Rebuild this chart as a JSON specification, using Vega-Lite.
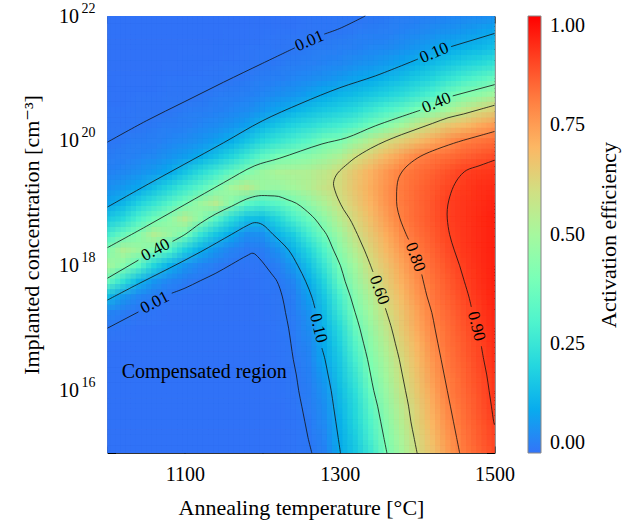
{
"$schema":"https://vega.github.io/schema/vega-lite/v6.json",
"width":387,"height":437,
"autosize":{"type":"none"},
"padding":{"left":107.5,"top":16,"right":146.5,"bottom":76},
"config":{"view":{"stroke":null},"font":"Liberation Serif, Times New Roman, DejaVu Serif, serif","axis":{"grid":false,"zindex":1,"labelFont":"Liberation Serif, Times New Roman, DejaVu Serif, serif","titleFont":"Liberation Serif, Times New Roman, DejaVu Serif, serif","labelColor":"#000","titleColor":"#000","titleFontWeight":"normal","labelFlush":false,"labelOverlap":false,"tickColor":"#000","domainColor":"#333","domainWidth":1}},
"datasets":{
"grid":[
{"t":1000,"u":15,"e":0},{"t":1020,"u":15,"e":0},{"t":1040,"u":15,"e":0},{"t":1060,"u":15,"e":0},{"t":1080,"u":15,"e":0},{"t":1100,"u":15,"e":0},{"t":1120,"u":15,"e":0},{"t":1140,"u":15,"e":0},{"t":1160,"u":15,"e":0},{"t":1180,"u":15,"e":0},{"t":1200,"u":15,"e":0},{"t":1220,"u":15,"e":0},{"t":1240,"u":15,"e":0.004},{"t":1260,"u":15,"e":0.009},{"t":1280,"u":15,"e":0.027},{"t":1300,"u":15,"e":0.097},{"t":1320,"u":15,"e":0.165},{"t":1340,"u":15,"e":0.26},{"t":1360,"u":15,"e":0.395},{"t":1380,"u":15,"e":0.5},{"t":1400,"u":15,"e":0.6},{"t":1420,"u":15,"e":0.67},{"t":1440,"u":15,"e":0.745},{"t":1460,"u":15,"e":0.81},{"t":1480,"u":15,"e":0.847},{"t":1500,"u":15,"e":0.885},
{"t":1000,"u":15.25,"e":0},{"t":1020,"u":15.25,"e":0},{"t":1040,"u":15.25,"e":0},{"t":1060,"u":15.25,"e":0},{"t":1080,"u":15.25,"e":0},{"t":1100,"u":15.25,"e":0},{"t":1120,"u":15.25,"e":0},{"t":1140,"u":15.25,"e":0},{"t":1160,"u":15.25,"e":0},{"t":1180,"u":15.25,"e":0},{"t":1200,"u":15.25,"e":0},{"t":1220,"u":15.25,"e":0},{"t":1240,"u":15.25,"e":0.003},{"t":1260,"u":15.25,"e":0.011},{"t":1280,"u":15.25,"e":0.035},{"t":1300,"u":15.25,"e":0.105},{"t":1320,"u":15.25,"e":0.18},{"t":1340,"u":15.25,"e":0.29},{"t":1360,"u":15.25,"e":0.415},{"t":1380,"u":15.25,"e":0.518},{"t":1400,"u":15.25,"e":0.615},{"t":1420,"u":15.25,"e":0.687},{"t":1440,"u":15.25,"e":0.76},{"t":1460,"u":15.25,"e":0.817},{"t":1480,"u":15.25,"e":0.856},{"t":1500,"u":15.25,"e":0.895},
{"t":1000,"u":15.5,"e":0},{"t":1020,"u":15.5,"e":0},{"t":1040,"u":15.5,"e":0},{"t":1060,"u":15.5,"e":0},{"t":1080,"u":15.5,"e":0},{"t":1100,"u":15.5,"e":0},{"t":1120,"u":15.5,"e":0},{"t":1140,"u":15.5,"e":0},{"t":1160,"u":15.5,"e":0},{"t":1180,"u":15.5,"e":0},{"t":1200,"u":15.5,"e":0},{"t":1220,"u":15.5,"e":0},{"t":1240,"u":15.5,"e":0.004},{"t":1260,"u":15.5,"e":0.013},{"t":1280,"u":15.5,"e":0.042},{"t":1300,"u":15.5,"e":0.115},{"t":1320,"u":15.5,"e":0.2},{"t":1340,"u":15.5,"e":0.31},{"t":1360,"u":15.5,"e":0.436},{"t":1380,"u":15.5,"e":0.538},{"t":1400,"u":15.5,"e":0.629},{"t":1420,"u":15.5,"e":0.702},{"t":1440,"u":15.5,"e":0.775},{"t":1460,"u":15.5,"e":0.825},{"t":1480,"u":15.5,"e":0.863},{"t":1500,"u":15.5,"e":0.9},
{"t":1000,"u":15.75,"e":0},{"t":1020,"u":15.75,"e":0},{"t":1040,"u":15.75,"e":0},{"t":1060,"u":15.75,"e":0},{"t":1080,"u":15.75,"e":0},{"t":1100,"u":15.75,"e":0},{"t":1120,"u":15.75,"e":0},{"t":1140,"u":15.75,"e":0},{"t":1160,"u":15.75,"e":0},{"t":1180,"u":15.75,"e":0},{"t":1200,"u":15.75,"e":0},{"t":1220,"u":15.75,"e":0},{"t":1240,"u":15.75,"e":0.005},{"t":1260,"u":15.75,"e":0.017},{"t":1280,"u":15.75,"e":0.051},{"t":1300,"u":15.75,"e":0.125},{"t":1320,"u":15.75,"e":0.21},{"t":1340,"u":15.75,"e":0.34},{"t":1360,"u":15.75,"e":0.455},{"t":1380,"u":15.75,"e":0.555},{"t":1400,"u":15.75,"e":0.64},{"t":1420,"u":15.75,"e":0.715},{"t":1440,"u":15.75,"e":0.79},{"t":1460,"u":15.75,"e":0.832},{"t":1480,"u":15.75,"e":0.87},{"t":1500,"u":15.75,"e":0.91},
{"t":1000,"u":16,"e":0},{"t":1020,"u":16,"e":0},{"t":1040,"u":16,"e":0},{"t":1060,"u":16,"e":0},{"t":1080,"u":16,"e":0},{"t":1100,"u":16,"e":0},{"t":1120,"u":16,"e":0},{"t":1140,"u":16,"e":0},{"t":1160,"u":16,"e":0},{"t":1180,"u":16,"e":0},{"t":1200,"u":16,"e":0},{"t":1220,"u":16,"e":0.002},{"t":1240,"u":16,"e":0.007},{"t":1260,"u":16,"e":0.02},{"t":1280,"u":16,"e":0.061},{"t":1300,"u":16,"e":0.14},{"t":1320,"u":16,"e":0.23},{"t":1340,"u":16,"e":0.37},{"t":1360,"u":16,"e":0.478},{"t":1380,"u":16,"e":0.576},{"t":1400,"u":16,"e":0.656},{"t":1420,"u":16,"e":0.73},{"t":1440,"u":16,"e":0.802},{"t":1460,"u":16,"e":0.839},{"t":1480,"u":16,"e":0.876},{"t":1500,"u":16,"e":0.915},
{"t":1000,"u":16.25,"e":0},{"t":1020,"u":16.25,"e":0},{"t":1040,"u":16.25,"e":0},{"t":1060,"u":16.25,"e":0},{"t":1080,"u":16.25,"e":0},{"t":1100,"u":16.25,"e":0},{"t":1120,"u":16.25,"e":0},{"t":1140,"u":16.25,"e":0},{"t":1160,"u":16.25,"e":0},{"t":1180,"u":16.25,"e":0},{"t":1200,"u":16.25,"e":0},{"t":1220,"u":16.25,"e":0.002},{"t":1240,"u":16.25,"e":0.008},{"t":1260,"u":16.25,"e":0.025},{"t":1280,"u":16.25,"e":0.075},{"t":1300,"u":16.25,"e":0.155},{"t":1320,"u":16.25,"e":0.26},{"t":1340,"u":16.25,"e":0.4},{"t":1360,"u":16.25,"e":0.498},{"t":1380,"u":16.25,"e":0.595},{"t":1400,"u":16.25,"e":0.67},{"t":1420,"u":16.25,"e":0.745},{"t":1440,"u":16.25,"e":0.81},{"t":1460,"u":16.25,"e":0.845},{"t":1480,"u":16.25,"e":0.882},{"t":1500,"u":16.25,"e":0.92},
{"t":1000,"u":16.5,"e":0},{"t":1020,"u":16.5,"e":0},{"t":1040,"u":16.5,"e":0},{"t":1060,"u":16.5,"e":0},{"t":1080,"u":16.5,"e":0},{"t":1100,"u":16.5,"e":0},{"t":1120,"u":16.5,"e":0},{"t":1140,"u":16.5,"e":0},{"t":1160,"u":16.5,"e":0},{"t":1180,"u":16.5,"e":0},{"t":1200,"u":16.5,"e":0},{"t":1220,"u":16.5,"e":0.003},{"t":1240,"u":16.5,"e":0.01},{"t":1260,"u":16.5,"e":0.031},{"t":1280,"u":16.5,"e":0.095},{"t":1300,"u":16.5,"e":0.17},{"t":1320,"u":16.5,"e":0.29},{"t":1340,"u":16.5,"e":0.42},{"t":1360,"u":16.5,"e":0.517},{"t":1380,"u":16.5,"e":0.61},{"t":1400,"u":16.5,"e":0.685},{"t":1420,"u":16.5,"e":0.76},{"t":1440,"u":16.5,"e":0.816},{"t":1460,"u":16.5,"e":0.853},{"t":1480,"u":16.5,"e":0.889},{"t":1500,"u":16.5,"e":0.925},
{"t":1000,"u":16.75,"e":0},{"t":1020,"u":16.75,"e":0},{"t":1040,"u":16.75,"e":0},{"t":1060,"u":16.75,"e":0},{"t":1080,"u":16.75,"e":0},{"t":1100,"u":16.75,"e":0},{"t":1120,"u":16.75,"e":0},{"t":1140,"u":16.75,"e":0},{"t":1160,"u":16.75,"e":0},{"t":1180,"u":16.75,"e":0},{"t":1200,"u":16.75,"e":0},{"t":1220,"u":16.75,"e":0.004},{"t":1240,"u":16.75,"e":0.012},{"t":1260,"u":16.75,"e":0.038},{"t":1280,"u":16.75,"e":0.105},{"t":1300,"u":16.75,"e":0.19},{"t":1320,"u":16.75,"e":0.32},{"t":1340,"u":16.75,"e":0.444},{"t":1360,"u":16.75,"e":0.541},{"t":1380,"u":16.75,"e":0.63},{"t":1400,"u":16.75,"e":0.7},{"t":1420,"u":16.75,"e":0.775},{"t":1440,"u":16.75,"e":0.824},{"t":1460,"u":16.75,"e":0.86},{"t":1480,"u":16.75,"e":0.896},{"t":1500,"u":16.75,"e":0.93},
{"t":1000,"u":17,"e":0.01},{"t":1020,"u":17,"e":0.005},{"t":1040,"u":17,"e":0},{"t":1060,"u":17,"e":0},{"t":1080,"u":17,"e":0},{"t":1100,"u":17,"e":0},{"t":1120,"u":17,"e":0},{"t":1140,"u":17,"e":0},{"t":1160,"u":17,"e":0},{"t":1180,"u":17,"e":0},{"t":1200,"u":17,"e":0},{"t":1220,"u":17,"e":0.005},{"t":1240,"u":17,"e":0.014},{"t":1260,"u":17,"e":0.047},{"t":1280,"u":17,"e":0.12},{"t":1300,"u":17,"e":0.215},{"t":1320,"u":17,"e":0.36},{"t":1340,"u":17,"e":0.468},{"t":1360,"u":17,"e":0.566},{"t":1380,"u":17,"e":0.65},{"t":1400,"u":17,"e":0.72},{"t":1420,"u":17,"e":0.79},{"t":1440,"u":17,"e":0.83},{"t":1460,"u":17,"e":0.869},{"t":1480,"u":17,"e":0.905},{"t":1500,"u":17,"e":0.935},
{"t":1000,"u":17.25,"e":0.036},{"t":1020,"u":17.25,"e":0.019},{"t":1040,"u":17.25,"e":0.009},{"t":1060,"u":17.25,"e":0.004},{"t":1080,"u":17.25,"e":0},{"t":1100,"u":17.25,"e":0},{"t":1120,"u":17.25,"e":0},{"t":1140,"u":17.25,"e":0},{"t":1160,"u":17.25,"e":0},{"t":1180,"u":17.25,"e":0},{"t":1200,"u":17.25,"e":0.002},{"t":1220,"u":17.25,"e":0.006},{"t":1240,"u":17.25,"e":0.018},{"t":1260,"u":17.25,"e":0.059},{"t":1280,"u":17.25,"e":0.14},{"t":1300,"u":17.25,"e":0.255},{"t":1320,"u":17.25,"e":0.4},{"t":1340,"u":17.25,"e":0.498},{"t":1360,"u":17.25,"e":0.595},{"t":1380,"u":17.25,"e":0.665},{"t":1400,"u":17.25,"e":0.735},{"t":1420,"u":17.25,"e":0.802},{"t":1440,"u":17.25,"e":0.84},{"t":1460,"u":17.25,"e":0.877},{"t":1480,"u":17.25,"e":0.911},{"t":1500,"u":17.25,"e":0.94},
{"t":1000,"u":17.5,"e":0.14},{"t":1020,"u":17.5,"e":0.066},{"t":1040,"u":17.5,"e":0.033},{"t":1060,"u":17.5,"e":0.016},{"t":1080,"u":17.5,"e":0.008},{"t":1100,"u":17.5,"e":0.004},{"t":1120,"u":17.5,"e":0.002},{"t":1140,"u":17.5,"e":0.001},{"t":1160,"u":17.5,"e":0},{"t":1180,"u":17.5,"e":0},{"t":1200,"u":17.5,"e":0.002},{"t":1220,"u":17.5,"e":0.007},{"t":1240,"u":17.5,"e":0.023},{"t":1260,"u":17.5,"e":0.079},{"t":1280,"u":17.5,"e":0.165},{"t":1300,"u":17.5,"e":0.29},{"t":1320,"u":17.5,"e":0.43},{"t":1340,"u":17.5,"e":0.53},{"t":1360,"u":17.5,"e":0.62},{"t":1380,"u":17.5,"e":0.688},{"t":1400,"u":17.5,"e":0.756},{"t":1420,"u":17.5,"e":0.813},{"t":1440,"u":17.5,"e":0.85},{"t":1460,"u":17.5,"e":0.887},{"t":1480,"u":17.5,"e":0.918},{"t":1500,"u":17.5,"e":0.945},
{"t":1000,"u":17.75,"e":0.36},{"t":1020,"u":17.75,"e":0.24},{"t":1040,"u":17.75,"e":0.125},{"t":1060,"u":17.75,"e":0.064},{"t":1080,"u":17.75,"e":0.034},{"t":1100,"u":17.75,"e":0.018},{"t":1120,"u":17.75,"e":0.01},{"t":1140,"u":17.75,"e":0.005},{"t":1160,"u":17.75,"e":0.002},{"t":1180,"u":17.75,"e":0},{"t":1200,"u":17.75,"e":0.004},{"t":1220,"u":17.75,"e":0.011},{"t":1240,"u":17.75,"e":0.037},{"t":1260,"u":17.75,"e":0.11},{"t":1280,"u":17.75,"e":0.205},{"t":1300,"u":17.75,"e":0.35},{"t":1320,"u":17.75,"e":0.465},{"t":1340,"u":17.75,"e":0.565},{"t":1360,"u":17.75,"e":0.643},{"t":1380,"u":17.75,"e":0.708},{"t":1400,"u":17.75,"e":0.774},{"t":1420,"u":17.75,"e":0.823},{"t":1440,"u":17.75,"e":0.86},{"t":1460,"u":17.75,"e":0.898},{"t":1480,"u":17.75,"e":0.924},{"t":1500,"u":17.75,"e":0.95},
{"t":1000,"u":18,"e":0.5},{"t":1020,"u":18,"e":0.43},{"t":1040,"u":18,"e":0.335},{"t":1060,"u":18,"e":0.2},{"t":1080,"u":18,"e":0.115},{"t":1100,"u":18,"e":0.063},{"t":1120,"u":18,"e":0.033},{"t":1140,"u":18,"e":0.017},{"t":1160,"u":18,"e":0.009},{"t":1180,"u":18,"e":0.005},{"t":1200,"u":18,"e":0.008},{"t":1220,"u":18,"e":0.024},{"t":1240,"u":18,"e":0.072},{"t":1260,"u":18,"e":0.15},{"t":1280,"u":18,"e":0.255},{"t":1300,"u":18,"e":0.395},{"t":1320,"u":18,"e":0.497},{"t":1340,"u":18,"e":0.6},{"t":1360,"u":18,"e":0.665},{"t":1380,"u":18,"e":0.73},{"t":1400,"u":18,"e":0.794},{"t":1420,"u":18,"e":0.834},{"t":1440,"u":18,"e":0.872},{"t":1460,"u":18,"e":0.906},{"t":1480,"u":18,"e":0.928},{"t":1500,"u":18,"e":0.95},
{"t":1000,"u":18.25,"e":0.42},{"t":1020,"u":18.25,"e":0.52},{"t":1040,"u":18.25,"e":0.48},{"t":1060,"u":18.25,"e":0.41},{"t":1080,"u":18.25,"e":0.31},{"t":1100,"u":18.25,"e":0.185},{"t":1120,"u":18.25,"e":0.11},{"t":1140,"u":18.25,"e":0.062},{"t":1160,"u":18.25,"e":0.03},{"t":1180,"u":18.25,"e":0.015},{"t":1200,"u":18.25,"e":0.02},{"t":1220,"u":18.25,"e":0.055},{"t":1240,"u":18.25,"e":0.12},{"t":1260,"u":18.25,"e":0.2},{"t":1280,"u":18.25,"e":0.31},{"t":1300,"u":18.25,"e":0.44},{"t":1320,"u":18.25,"e":0.54},{"t":1340,"u":18.25,"e":0.626},{"t":1360,"u":18.25,"e":0.69},{"t":1380,"u":18.25,"e":0.755},{"t":1400,"u":18.25,"e":0.811},{"t":1420,"u":18.25,"e":0.848},{"t":1440,"u":18.25,"e":0.885},{"t":1460,"u":18.25,"e":0.912},{"t":1480,"u":18.25,"e":0.931},{"t":1500,"u":18.25,"e":0.95},
{"t":1000,"u":18.5,"e":0.28},{"t":1020,"u":18.5,"e":0.36},{"t":1040,"u":18.5,"e":0.43},{"t":1060,"u":18.5,"e":0.53},{"t":1080,"u":18.5,"e":0.475},{"t":1100,"u":18.5,"e":0.4},{"t":1120,"u":18.5,"e":0.25},{"t":1140,"u":18.5,"e":0.16},{"t":1160,"u":18.5,"e":0.1},{"t":1180,"u":18.5,"e":0.051},{"t":1200,"u":18.5,"e":0.054},{"t":1220,"u":18.5,"e":0.12},{"t":1240,"u":18.5,"e":0.18},{"t":1260,"u":18.5,"e":0.28},{"t":1280,"u":18.5,"e":0.385},{"t":1300,"u":18.5,"e":0.485},{"t":1320,"u":18.5,"e":0.585},{"t":1340,"u":18.5,"e":0.654},{"t":1360,"u":18.5,"e":0.717},{"t":1380,"u":18.5,"e":0.78},{"t":1400,"u":18.5,"e":0.825},{"t":1420,"u":18.5,"e":0.86},{"t":1440,"u":18.5,"e":0.896},{"t":1460,"u":18.5,"e":0.915},{"t":1480,"u":18.5,"e":0.933},{"t":1500,"u":18.5,"e":0.95},
{"t":1000,"u":18.75,"e":0.17},{"t":1020,"u":18.75,"e":0.215},{"t":1040,"u":18.75,"e":0.3},{"t":1060,"u":18.75,"e":0.38},{"t":1080,"u":18.75,"e":0.45},{"t":1100,"u":18.75,"e":0.54},{"t":1120,"u":18.75,"e":0.445},{"t":1140,"u":18.75,"e":0.33},{"t":1160,"u":18.75,"e":0.22},{"t":1180,"u":18.75,"e":0.15},{"t":1200,"u":18.75,"e":0.14},{"t":1220,"u":18.75,"e":0.205},{"t":1240,"u":18.75,"e":0.29},{"t":1260,"u":18.75,"e":0.37},{"t":1280,"u":18.75,"e":0.453},{"t":1300,"u":18.75,"e":0.542},{"t":1320,"u":18.75,"e":0.62},{"t":1340,"u":18.75,"e":0.68},{"t":1360,"u":18.75,"e":0.743},{"t":1380,"u":18.75,"e":0.803},{"t":1400,"u":18.75,"e":0.836},{"t":1420,"u":18.75,"e":0.869},{"t":1440,"u":18.75,"e":0.9},{"t":1460,"u":18.75,"e":0.917},{"t":1480,"u":18.75,"e":0.934},{"t":1500,"u":18.75,"e":0.95},
{"t":1000,"u":19,"e":0.088},{"t":1020,"u":19,"e":0.125},{"t":1040,"u":19,"e":0.19},{"t":1060,"u":19,"e":0.25},{"t":1080,"u":19,"e":0.32},{"t":1100,"u":19,"e":0.39},{"t":1120,"u":19,"e":0.48},{"t":1140,"u":19,"e":0.54},{"t":1160,"u":19,"e":0.43},{"t":1180,"u":19,"e":0.335},{"t":1200,"u":19,"e":0.3},{"t":1220,"u":19,"e":0.335},{"t":1240,"u":19,"e":0.39},{"t":1260,"u":19,"e":0.454},{"t":1280,"u":19,"e":0.522},{"t":1300,"u":19,"e":0.59},{"t":1320,"u":19,"e":0.648},{"t":1340,"u":19,"e":0.704},{"t":1360,"u":19,"e":0.76},{"t":1380,"u":19,"e":0.81},{"t":1400,"u":19,"e":0.84},{"t":1420,"u":19,"e":0.87},{"t":1440,"u":19,"e":0.9},{"t":1460,"u":19,"e":0.915},{"t":1480,"u":19,"e":0.93},{"t":1500,"u":19,"e":0.945},
{"t":1000,"u":19.25,"e":0.05},{"t":1020,"u":19.25,"e":0.069},{"t":1040,"u":19.25,"e":0.093},{"t":1060,"u":19.25,"e":0.145},{"t":1080,"u":19.25,"e":0.205},{"t":1100,"u":19.25,"e":0.265},{"t":1120,"u":19.25,"e":0.33},{"t":1140,"u":19.25,"e":0.41},{"t":1160,"u":19.25,"e":0.5},{"t":1180,"u":19.25,"e":0.545},{"t":1200,"u":19.25,"e":0.48},{"t":1220,"u":19.25,"e":0.47},{"t":1240,"u":19.25,"e":0.495},{"t":1260,"u":19.25,"e":0.53},{"t":1280,"u":19.25,"e":0.575},{"t":1300,"u":19.25,"e":0.61},{"t":1320,"u":19.25,"e":0.665},{"t":1340,"u":19.25,"e":0.715},{"t":1360,"u":19.25,"e":0.765},{"t":1380,"u":19.25,"e":0.81},{"t":1400,"u":19.25,"e":0.836},{"t":1420,"u":19.25,"e":0.864},{"t":1440,"u":19.25,"e":0.892},{"t":1460,"u":19.25,"e":0.91},{"t":1480,"u":19.25,"e":0.925},{"t":1500,"u":19.25,"e":0.935},
{"t":1000,"u":19.5,"e":0.029},{"t":1020,"u":19.5,"e":0.039},{"t":1040,"u":19.5,"e":0.053},{"t":1060,"u":19.5,"e":0.073},{"t":1080,"u":19.5,"e":0.1},{"t":1100,"u":19.5,"e":0.155},{"t":1120,"u":19.5,"e":0.22},{"t":1140,"u":19.5,"e":0.28},{"t":1160,"u":19.5,"e":0.355},{"t":1180,"u":19.5,"e":0.42},{"t":1200,"u":19.5,"e":0.48},{"t":1220,"u":19.5,"e":0.513},{"t":1240,"u":19.5,"e":0.523},{"t":1260,"u":19.5,"e":0.53},{"t":1280,"u":19.5,"e":0.56},{"t":1300,"u":19.5,"e":0.605},{"t":1320,"u":19.5,"e":0.655},{"t":1340,"u":19.5,"e":0.705},{"t":1360,"u":19.5,"e":0.755},{"t":1380,"u":19.5,"e":0.8},{"t":1400,"u":19.5,"e":0.825},{"t":1420,"u":19.5,"e":0.85},{"t":1440,"u":19.5,"e":0.874},{"t":1460,"u":19.5,"e":0.9},{"t":1480,"u":19.5,"e":0.91},{"t":1500,"u":19.5,"e":0.92},
{"t":1000,"u":19.75,"e":0.017},{"t":1020,"u":19.75,"e":0.023},{"t":1040,"u":19.75,"e":0.031},{"t":1060,"u":19.75,"e":0.041},{"t":1080,"u":19.75,"e":0.057},{"t":1100,"u":19.75,"e":0.076},{"t":1120,"u":19.75,"e":0.105},{"t":1140,"u":19.75,"e":0.15},{"t":1160,"u":19.75,"e":0.2},{"t":1180,"u":19.75,"e":0.265},{"t":1200,"u":19.75,"e":0.34},{"t":1220,"u":19.75,"e":0.39},{"t":1240,"u":19.75,"e":0.42},{"t":1260,"u":19.75,"e":0.44},{"t":1280,"u":19.75,"e":0.48},{"t":1300,"u":19.75,"e":0.52},{"t":1320,"u":19.75,"e":0.595},{"t":1340,"u":19.75,"e":0.64},{"t":1360,"u":19.75,"e":0.69},{"t":1380,"u":19.75,"e":0.74},{"t":1400,"u":19.75,"e":0.79},{"t":1420,"u":19.75,"e":0.815},{"t":1440,"u":19.75,"e":0.83},{"t":1460,"u":19.75,"e":0.85},{"t":1480,"u":19.75,"e":0.867},{"t":1500,"u":19.75,"e":0.885},
{"t":1000,"u":20,"e":0.01},{"t":1020,"u":20,"e":0.013},{"t":1040,"u":20,"e":0.018},{"t":1060,"u":20,"e":0.024},{"t":1080,"u":20,"e":0.032},{"t":1100,"u":20,"e":0.043},{"t":1120,"u":20,"e":0.059},{"t":1140,"u":20,"e":0.079},{"t":1160,"u":20,"e":0.11},{"t":1180,"u":20,"e":0.155},{"t":1200,"u":20,"e":0.21},{"t":1220,"u":20,"e":0.25},{"t":1240,"u":20,"e":0.29},{"t":1260,"u":20,"e":0.33},{"t":1280,"u":20,"e":0.385},{"t":1300,"u":20,"e":0.41},{"t":1320,"u":20,"e":0.48},{"t":1340,"u":20,"e":0.54},{"t":1360,"u":20,"e":0.6},{"t":1380,"u":20,"e":0.64},{"t":1400,"u":20,"e":0.68},{"t":1420,"u":20,"e":0.725},{"t":1440,"u":20,"e":0.765},{"t":1460,"u":20,"e":0.803},{"t":1480,"u":20,"e":0.815},{"t":1500,"u":20,"e":0.83},
{"t":1000,"u":20.25,"e":0.006},{"t":1020,"u":20.25,"e":0.008},{"t":1040,"u":20.25,"e":0.01},{"t":1060,"u":20.25,"e":0.013},{"t":1080,"u":20.25,"e":0.018},{"t":1100,"u":20.25,"e":0.024},{"t":1120,"u":20.25,"e":0.033},{"t":1140,"u":20.25,"e":0.044},{"t":1160,"u":20.25,"e":0.06},{"t":1180,"u":20.25,"e":0.082},{"t":1200,"u":20.25,"e":0.125},{"t":1220,"u":20.25,"e":0.16},{"t":1240,"u":20.25,"e":0.195},{"t":1260,"u":20.25,"e":0.225},{"t":1280,"u":20.25,"e":0.255},{"t":1300,"u":20.25,"e":0.28},{"t":1320,"u":20.25,"e":0.32},{"t":1340,"u":20.25,"e":0.38},{"t":1360,"u":20.25,"e":0.434},{"t":1380,"u":20.25,"e":0.497},{"t":1400,"u":20.25,"e":0.56},{"t":1420,"u":20.25,"e":0.615},{"t":1440,"u":20.25,"e":0.655},{"t":1460,"u":20.25,"e":0.685},{"t":1480,"u":20.25,"e":0.72},{"t":1500,"u":20.25,"e":0.75},
{"t":1000,"u":20.5,"e":0.003},{"t":1020,"u":20.5,"e":0.004},{"t":1040,"u":20.5,"e":0.006},{"t":1060,"u":20.5,"e":0.008},{"t":1080,"u":20.5,"e":0.01},{"t":1100,"u":20.5,"e":0.014},{"t":1120,"u":20.5,"e":0.018},{"t":1140,"u":20.5,"e":0.025},{"t":1160,"u":20.5,"e":0.033},{"t":1180,"u":20.5,"e":0.045},{"t":1200,"u":20.5,"e":0.064},{"t":1220,"u":20.5,"e":0.086},{"t":1240,"u":20.5,"e":0.115},{"t":1260,"u":20.5,"e":0.14},{"t":1280,"u":20.5,"e":0.165},{"t":1300,"u":20.5,"e":0.185},{"t":1320,"u":20.5,"e":0.215},{"t":1340,"u":20.5,"e":0.255},{"t":1360,"u":20.5,"e":0.3},{"t":1380,"u":20.5,"e":0.34},{"t":1400,"u":20.5,"e":0.39},{"t":1420,"u":20.5,"e":0.44},{"t":1440,"u":20.5,"e":0.495},{"t":1460,"u":20.5,"e":0.55},{"t":1480,"u":20.5,"e":0.6},{"t":1500,"u":20.5,"e":0.633},
{"t":1000,"u":20.75,"e":0.001},{"t":1020,"u":20.75,"e":0.002},{"t":1040,"u":20.75,"e":0.003},{"t":1060,"u":20.75,"e":0.004},{"t":1080,"u":20.75,"e":0.006},{"t":1100,"u":20.75,"e":0.008},{"t":1120,"u":20.75,"e":0.01},{"t":1140,"u":20.75,"e":0.014},{"t":1160,"u":20.75,"e":0.018},{"t":1180,"u":20.75,"e":0.025},{"t":1200,"u":20.75,"e":0.034},{"t":1220,"u":20.75,"e":0.046},{"t":1240,"u":20.75,"e":0.061},{"t":1260,"u":20.75,"e":0.08},{"t":1280,"u":20.75,"e":0.1},{"t":1300,"u":20.75,"e":0.12},{"t":1320,"u":20.75,"e":0.14},{"t":1340,"u":20.75,"e":0.165},{"t":1360,"u":20.75,"e":0.19},{"t":1380,"u":20.75,"e":0.22},{"t":1400,"u":20.75,"e":0.26},{"t":1420,"u":20.75,"e":0.3},{"t":1440,"u":20.75,"e":0.37},{"t":1460,"u":20.75,"e":0.417},{"t":1480,"u":20.75,"e":0.45},{"t":1500,"u":20.75,"e":0.49},
{"t":1000,"u":21,"e":0},{"t":1020,"u":21,"e":0.001},{"t":1040,"u":21,"e":0.001},{"t":1060,"u":21,"e":0.002},{"t":1080,"u":21,"e":0.003},{"t":1100,"u":21,"e":0.004},{"t":1120,"u":21,"e":0.005},{"t":1140,"u":21,"e":0.007},{"t":1160,"u":21,"e":0.01},{"t":1180,"u":21,"e":0.013},{"t":1200,"u":21,"e":0.018},{"t":1220,"u":21,"e":0.025},{"t":1240,"u":21,"e":0.033},{"t":1260,"u":21,"e":0.044},{"t":1280,"u":21,"e":0.056},{"t":1300,"u":21,"e":0.07},{"t":1320,"u":21,"e":0.085},{"t":1340,"u":21,"e":0.1},{"t":1360,"u":21,"e":0.12},{"t":1380,"u":21,"e":0.145},{"t":1400,"u":21,"e":0.175},{"t":1420,"u":21,"e":0.205},{"t":1440,"u":21,"e":0.245},{"t":1460,"u":21,"e":0.285},{"t":1480,"u":21,"e":0.32},{"t":1500,"u":21,"e":0.36},
{"t":1000,"u":21.25,"e":0},{"t":1020,"u":21.25,"e":0},{"t":1040,"u":21.25,"e":0},{"t":1060,"u":21.25,"e":0},{"t":1080,"u":21.25,"e":0.001},{"t":1100,"u":21.25,"e":0.002},{"t":1120,"u":21.25,"e":0.002},{"t":1140,"u":21.25,"e":0.003},{"t":1160,"u":21.25,"e":0.005},{"t":1180,"u":21.25,"e":0.007},{"t":1200,"u":21.25,"e":0.01},{"t":1220,"u":21.25,"e":0.013},{"t":1240,"u":21.25,"e":0.018},{"t":1260,"u":21.25,"e":0.023},{"t":1280,"u":21.25,"e":0.03},{"t":1300,"u":21.25,"e":0.038},{"t":1320,"u":21.25,"e":0.048},{"t":1340,"u":21.25,"e":0.059},{"t":1360,"u":21.25,"e":0.072},{"t":1380,"u":21.25,"e":0.089},{"t":1400,"u":21.25,"e":0.115},{"t":1420,"u":21.25,"e":0.135},{"t":1440,"u":21.25,"e":0.16},{"t":1460,"u":21.25,"e":0.185},{"t":1480,"u":21.25,"e":0.21},{"t":1500,"u":21.25,"e":0.24},
{"t":1000,"u":21.5,"e":0},{"t":1020,"u":21.5,"e":0},{"t":1040,"u":21.5,"e":0},{"t":1060,"u":21.5,"e":0},{"t":1080,"u":21.5,"e":0},{"t":1100,"u":21.5,"e":0.001},{"t":1120,"u":21.5,"e":0.001},{"t":1140,"u":21.5,"e":0.002},{"t":1160,"u":21.5,"e":0.002},{"t":1180,"u":21.5,"e":0.003},{"t":1200,"u":21.5,"e":0.005},{"t":1220,"u":21.5,"e":0.007},{"t":1240,"u":21.5,"e":0.01},{"t":1260,"u":21.5,"e":0.013},{"t":1280,"u":21.5,"e":0.017},{"t":1300,"u":21.5,"e":0.021},{"t":1320,"u":21.5,"e":0.027},{"t":1340,"u":21.5,"e":0.034},{"t":1360,"u":21.5,"e":0.041},{"t":1380,"u":21.5,"e":0.051},{"t":1400,"u":21.5,"e":0.065},{"t":1420,"u":21.5,"e":0.08},{"t":1440,"u":21.5,"e":0.1},{"t":1460,"u":21.5,"e":0.115},{"t":1480,"u":21.5,"e":0.13},{"t":1500,"u":21.5,"e":0.15},
{"t":1000,"u":21.75,"e":0},{"t":1020,"u":21.75,"e":0},{"t":1040,"u":21.75,"e":0},{"t":1060,"u":21.75,"e":0},{"t":1080,"u":21.75,"e":0},{"t":1100,"u":21.75,"e":0},{"t":1120,"u":21.75,"e":0},{"t":1140,"u":21.75,"e":0},{"t":1160,"u":21.75,"e":0.001},{"t":1180,"u":21.75,"e":0.001},{"t":1200,"u":21.75,"e":0.002},{"t":1220,"u":21.75,"e":0.003},{"t":1240,"u":21.75,"e":0.004},{"t":1260,"u":21.75,"e":0.006},{"t":1280,"u":21.75,"e":0.009},{"t":1300,"u":21.75,"e":0.011},{"t":1320,"u":21.75,"e":0.015},{"t":1340,"u":21.75,"e":0.019},{"t":1360,"u":21.75,"e":0.024},{"t":1380,"u":21.75,"e":0.03},{"t":1400,"u":21.75,"e":0.037},{"t":1420,"u":21.75,"e":0.046},{"t":1440,"u":21.75,"e":0.057},{"t":1460,"u":21.75,"e":0.068},{"t":1480,"u":21.75,"e":0.08},{"t":1500,"u":21.75,"e":0.094},
{"t":1000,"u":22,"e":0},{"t":1020,"u":22,"e":0},{"t":1040,"u":22,"e":0},{"t":1060,"u":22,"e":0},{"t":1080,"u":22,"e":0},{"t":1100,"u":22,"e":0},{"t":1120,"u":22,"e":0},{"t":1140,"u":22,"e":0},{"t":1160,"u":22,"e":0},{"t":1180,"u":22,"e":0},{"t":1200,"u":22,"e":0},{"t":1220,"u":22,"e":0.001},{"t":1240,"u":22,"e":0.002},{"t":1260,"u":22,"e":0.003},{"t":1280,"u":22,"e":0.004},{"t":1300,"u":22,"e":0.006},{"t":1320,"u":22,"e":0.008},{"t":1340,"u":22,"e":0.011},{"t":1360,"u":22,"e":0.013},{"t":1380,"u":22,"e":0.017},{"t":1400,"u":22,"e":0.021},{"t":1420,"u":22,"e":0.026},{"t":1440,"u":22,"e":0.032},{"t":1460,"u":22,"e":0.039},{"t":1480,"u":22,"e":0.045},{"t":1500,"u":22,"e":0.053}
],
"lines":[
{"g":"A1","o":1,"t":1000,"u":19.98},{"g":"A1","o":2,"t":1050,"u":20.32},{"g":"A1","o":3,"t":1100,"u":20.63},{"g":"A1","o":4,"t":1150,"u":20.94},{"g":"A1","o":5,"t":1200,"u":21.24},{"g":"A1","o":6,"t":1242,"u":21.49},
{"g":"A2","o":1,"t":1280,"u":21.71},{"g":"A2","o":2,"t":1300,"u":21.8},{"g":"A2","o":3,"t":1333,"u":22},
{"g":"B1","o":1,"t":1000,"u":18.94},{"g":"B1","o":2,"t":1053,"u":19.31},{"g":"B1","o":3,"t":1100,"u":19.63},{"g":"B1","o":4,"t":1150,"u":19.97},{"g":"B1","o":5,"t":1200,"u":20.32},{"g":"B1","o":6,"t":1250,"u":20.6},{"g":"B1","o":7,"t":1300,"u":20.85},{"g":"B1","o":8,"t":1346,"u":21.04},{"g":"B1","o":9,"t":1401,"u":21.31},
{"g":"B2","o":1,"t":1444,"u":21.51},{"g":"B2","o":2,"t":1500,"u":21.72},
{"g":"C1","o":1,"t":1000,"u":18.29},{"g":"C1","o":2,"t":1050,"u":18.63},{"g":"C1","o":3,"t":1100,"u":18.98},{"g":"C1","o":4,"t":1150,"u":19.33},{"g":"C1","o":5,"t":1190,"u":19.6},{"g":"C1","o":6,"t":1222,"u":19.72},{"g":"C1","o":7,"t":1277,"u":19.95},{"g":"C1","o":8,"t":1309,"u":20.05},{"g":"C1","o":9,"t":1346,"u":20.24},{"g":"C1","o":10,"t":1404,"u":20.49},
{"g":"C2","o":1,"t":1446,"u":20.72},{"g":"C2","o":2,"t":1500,"u":20.9},
{"g":"D1","o":1,"t":1500,"u":20.57},{"g":"D1","o":2,"t":1480,"u":20.5},{"g":"D1","o":3,"t":1460,"u":20.43},{"g":"D1","o":4,"t":1440,"u":20.37},{"g":"D1","o":5,"t":1420,"u":20.28},{"g":"D1","o":6,"t":1400,"u":20.19},{"g":"D1","o":7,"t":1380,"u":20.1},{"g":"D1","o":8,"t":1360,"u":20},{"g":"D1","o":9,"t":1340,"u":19.88},{"g":"D1","o":10,"t":1320,"u":19.73},{"g":"D1","o":11,"t":1310,"u":19.63},{"g":"D1","o":12,"t":1300,"u":19.52},{"g":"D1","o":13,"t":1295,"u":19.44},{"g":"D1","o":14,"t":1292,"u":19.32},{"g":"D1","o":15,"t":1294,"u":19.2},{"g":"D1","o":16,"t":1298,"u":19.07},{"g":"D1","o":17,"t":1305,"u":18.9},{"g":"D1","o":18,"t":1313,"u":18.75},{"g":"D1","o":19,"t":1323,"u":18.5},{"g":"D1","o":20,"t":1332,"u":18.25},{"g":"D1","o":21,"t":1340,"u":18},{"g":"D1","o":22,"t":1343,"u":17.9},
{"g":"D2","o":1,"t":1359,"u":17.32},{"g":"D2","o":2,"t":1367,"u":17},{"g":"D2","o":3,"t":1372,"u":16.75},{"g":"D2","o":4,"t":1377,"u":16.5},{"g":"D2","o":5,"t":1381,"u":16.25},{"g":"D2","o":6,"t":1385,"u":16},{"g":"D2","o":7,"t":1389,"u":15.75},{"g":"D2","o":8,"t":1392,"u":15.5},{"g":"D2","o":9,"t":1396,"u":15.25},{"g":"D2","o":10,"t":1400,"u":15},
{"g":"E1","o":1,"t":1500,"u":20.15},{"g":"E1","o":2,"t":1480,"u":20.08},{"g":"E1","o":3,"t":1460,"u":20.01},{"g":"E1","o":4,"t":1447,"u":19.96},{"g":"E1","o":5,"t":1420,"u":19.84},{"g":"E1","o":6,"t":1404,"u":19.75},{"g":"E1","o":7,"t":1390,"u":19.63},{"g":"E1","o":8,"t":1382,"u":19.53},{"g":"E1","o":9,"t":1376,"u":19.4},{"g":"E1","o":10,"t":1374,"u":19.27},{"g":"E1","o":11,"t":1373.5,"u":19.1},{"g":"E1","o":12,"t":1374,"u":18.95},{"g":"E1","o":13,"t":1378,"u":18.75},{"g":"E1","o":14,"t":1386,"u":18.5},{"g":"E1","o":15,"t":1389,"u":18.42},
{"g":"E2","o":1,"t":1406,"u":17.86},{"g":"E2","o":2,"t":1413,"u":17.5},{"g":"E2","o":3,"t":1419,"u":17.25},{"g":"E2","o":4,"t":1423,"u":17},{"g":"E2","o":5,"t":1427,"u":16.75},{"g":"E2","o":6,"t":1431,"u":16.5},{"g":"E2","o":7,"t":1435,"u":16.25},{"g":"E2","o":8,"t":1439,"u":16},{"g":"E2","o":9,"t":1443,"u":15.75},{"g":"E2","o":10,"t":1447,"u":15.5},{"g":"E2","o":11,"t":1451,"u":15.25},{"g":"E2","o":12,"t":1455,"u":15},
{"g":"F1","o":1,"t":1500,"u":19.69},{"g":"F1","o":2,"t":1480,"u":19.6},{"g":"F1","o":3,"t":1464,"u":19.53},{"g":"F1","o":4,"t":1455,"u":19.43},{"g":"F1","o":5,"t":1447,"u":19.27},{"g":"F1","o":6,"t":1441,"u":19.05},{"g":"F1","o":7,"t":1439,"u":18.9},{"g":"F1","o":8,"t":1439,"u":18.75},{"g":"F1","o":9,"t":1442,"u":18.5},{"g":"F1","o":10,"t":1448,"u":18.25},{"g":"F1","o":11,"t":1455,"u":18},{"g":"F1","o":12,"t":1461,"u":17.75},{"g":"F1","o":13,"t":1467,"u":17.5},{"g":"F1","o":14,"t":1470,"u":17.34},
{"g":"F2","o":1,"t":1483,"u":16.71},{"g":"F2","o":2,"t":1486,"u":16.5},{"g":"F2","o":3,"t":1490,"u":16.25},{"g":"F2","o":4,"t":1493,"u":16},{"g":"F2","o":5,"t":1496,"u":15.75},{"g":"F2","o":6,"t":1499,"u":15.5},{"g":"F2","o":7,"t":1500,"u":15.45},
{"g":"G1","o":1,"t":1000,"u":17.8},{"g":"G1","o":2,"t":1040,"u":18.09},
{"g":"G2","o":1,"t":1084,"u":18.39},{"g":"G2","o":2,"t":1100,"u":18.5},{"g":"G2","o":3,"t":1120,"u":18.68},{"g":"G2","o":4,"t":1140,"u":18.83},{"g":"G2","o":5,"t":1160,"u":18.95},{"g":"G2","o":6,"t":1180,"u":19.07},{"g":"G2","o":7,"t":1195,"u":19.12},{"g":"G2","o":8,"t":1210,"u":19.12},{"g":"G2","o":9,"t":1221,"u":19.11},{"g":"G2","o":10,"t":1232,"u":19.06},{"g":"G2","o":11,"t":1244,"u":19},{"g":"G2","o":12,"t":1255,"u":18.9},{"g":"G2","o":13,"t":1268,"u":18.75},{"g":"G2","o":14,"t":1276,"u":18.62},{"g":"G2","o":15,"t":1283,"u":18.5},{"g":"G2","o":16,"t":1292,"u":18.25},{"g":"G2","o":17,"t":1301,"u":18},{"g":"G2","o":18,"t":1307,"u":17.75},{"g":"G2","o":19,"t":1314,"u":17.5},{"g":"G2","o":20,"t":1320,"u":17.25},{"g":"G2","o":21,"t":1326,"u":17},{"g":"G2","o":22,"t":1331,"u":16.75},{"g":"G2","o":23,"t":1336,"u":16.5},{"g":"G2","o":24,"t":1340,"u":16.25},{"g":"G2","o":25,"t":1344,"u":16},{"g":"G2","o":26,"t":1349,"u":15.75},{"g":"G2","o":27,"t":1353,"u":15.5},{"g":"G2","o":28,"t":1357,"u":15.25},{"g":"G2","o":29,"t":1361,"u":15},
{"g":"H1","o":1,"t":1000,"u":17.45},{"g":"H1","o":2,"t":1040,"u":17.71},{"g":"H1","o":3,"t":1080,"u":17.96},{"g":"H1","o":4,"t":1120,"u":18.22},{"g":"H1","o":5,"t":1160,"u":18.5},{"g":"H1","o":6,"t":1180,"u":18.64},{"g":"H1","o":7,"t":1190,"u":18.69},{"g":"H1","o":8,"t":1200,"u":18.66},{"g":"H1","o":9,"t":1214,"u":18.5},{"g":"H1","o":10,"t":1234,"u":18.25},{"g":"H1","o":11,"t":1246,"u":18},{"g":"H1","o":12,"t":1256,"u":17.75},{"g":"H1","o":13,"t":1264,"u":17.5},{"g":"H1","o":14,"t":1268,"u":17.32},
{"g":"H2","o":1,"t":1277,"u":16.68},{"g":"H2","o":2,"t":1281,"u":16.5},{"g":"H2","o":3,"t":1285,"u":16.25},{"g":"H2","o":4,"t":1289,"u":16},{"g":"H2","o":5,"t":1292,"u":15.75},{"g":"H2","o":6,"t":1295,"u":15.5},{"g":"H2","o":7,"t":1298,"u":15.25},{"g":"H2","o":8,"t":1301,"u":15},
{"g":"I1","o":1,"t":1000,"u":17},{"g":"I1","o":2,"t":1040,"u":17.26},
{"g":"I2","o":1,"t":1083,"u":17.56},{"g":"I2","o":2,"t":1100,"u":17.64},{"g":"I2","o":3,"t":1120,"u":17.76},{"g":"I2","o":4,"t":1140,"u":17.88},{"g":"I2","o":5,"t":1160,"u":18.02},{"g":"I2","o":6,"t":1180,"u":18.16},{"g":"I2","o":7,"t":1188,"u":18.2},{"g":"I2","o":8,"t":1196,"u":18.12},{"g":"I2","o":9,"t":1204,"u":18},{"g":"I2","o":10,"t":1212,"u":17.87},{"g":"I2","o":11,"t":1219,"u":17.75},{"g":"I2","o":12,"t":1226,"u":17.5},{"g":"I2","o":13,"t":1230,"u":17.25},{"g":"I2","o":14,"t":1234,"u":17},{"g":"I2","o":15,"t":1237,"u":16.75},{"g":"I2","o":16,"t":1240,"u":16.5},{"g":"I2","o":17,"t":1244,"u":16.25},{"g":"I2","o":18,"t":1247,"u":16},{"g":"I2","o":19,"t":1251,"u":15.75},{"g":"I2","o":20,"t":1255,"u":15.5},{"g":"I2","o":21,"t":1259,"u":15.25},{"g":"I2","o":22,"t":1264,"u":15}
]
},
"layer":[
{"data":{"name":"grid"},
 "mark":{"type":"rect","width":16,"height":16,"clip":true},
 "encoding":{
  "x":{"field":"t","type":"quantitative","scale":{"domain":[1000,1500],"nice":false,"zero":false},
   "axis":{"orient":"bottom","values":[1100,1300,1500],"format":"d","ticks":false,"domain":true,"labelFontSize":20,"labelPadding":11,"title":"Annealing temperature [°C]","titleFontSize":22,"titlePadding":13}},
  "y":{"field":"u","type":"quantitative","scale":{"domain":[15,22],"nice":false,"zero":false},
   "axis":{"orient":"left","values":[16,18,20,22],"labelExpr":"'10'","ticks":false,"domain":true,"labelFontSize":20,"labelPadding":29,"title":"Implanted concentration [cm⁻³]","titleFontSize":22,"titlePadding":15,"titleLimit":600}},
  "color":{"field":"e","type":"quantitative",
   "scale":{"domain":[0,0.1,0.2,0.3,0.4,0.5,0.6,0.7,0.8,0.9,1],"range":["#3374F8","#08ACEE","#24D7DF","#4FF4CD","#7AFFB7","#A6F89E","#D1DF82","#FCB764","#FF8243","#FF4322","#FF0000"],"interpolate":"rgb"},
   "legend":{"type":"gradient","orient":"none","legendX":420.5,"legendY":0,"direction":"vertical","gradientLength":437,"gradientThickness":13,"gradientStrokeColor":"#888","gradientStrokeWidth":1,"values":[0,0.25,0.5,0.75,1],"format":".2f","labelFont":"Liberation Serif, Times New Roman, DejaVu Serif, serif","labelFontSize":20,"labelColor":"#000","labelOffset":9,"labelBaseline":"middle","labelOverlap":false,"title":"Activation efficiency","titleFont":"Liberation Serif, Times New Roman, DejaVu Serif, serif","titleFontSize":22,"titleFontWeight":"normal","titleColor":"#000","titleOrient":"right","titleAnchor":"middle","titleBaseline":"top","titlePadding":14,"titleLimit":600,"padding":0,"encode":{"title":{"update":{"angle":{"value":-90}}}}}}
 }},
{"data":{"name":"grid"},"mark":{"type":"rect","width":15.5,"height":15.62,"clip":true,"xOffset":-5.16,"yOffset":-5.2,"opacity":0.5},
 "encoding":{"x":{"field":"t","type":"quantitative","axis":null},
  "y":{"field":"u","type":"quantitative","axis":{"orient":"left","values":[16,18,20,22],"labelExpr":"datum.value","ticks":false,"domain":false,"labelFontSize":14,"labelPadding":12.5,"labelOffset":-8,"title":null}},
  "color":{"field":"e","type":"quantitative","legend":null}}},
{"data":{"name":"grid"},"mark":{"type":"rect","width":15.5,"height":15.62,"clip":true,"xOffset":5.16,"yOffset":-5.2,"opacity":0.3333},
 "encoding":{"x":{"field":"t","type":"quantitative","axis":null},"y":{"field":"u","type":"quantitative","axis":null},"color":{"field":"e","type":"quantitative","legend":null}}},
{"data":{"name":"grid"},"mark":{"type":"rect","width":15.5,"height":15.62,"clip":true,"xOffset":-5.16,"yOffset":5.2,"opacity":0.25},
 "encoding":{"x":{"field":"t","type":"quantitative","axis":null},"y":{"field":"u","type":"quantitative","axis":null},"color":{"field":"e","type":"quantitative","legend":null}}},
{"data":{"name":"grid"},"mark":{"type":"rect","width":15.5,"height":15.62,"clip":true,"xOffset":5.16,"yOffset":5.2,"opacity":0.2},
 "encoding":{"x":{"field":"t","type":"quantitative","axis":null},"y":{"field":"u","type":"quantitative","axis":null},"color":{"field":"e","type":"quantitative","legend":null}}},
{"data":{"name":"grid"},"mark":{"type":"rect","width":15.5,"height":15.62,"clip":true,"xOffset":0,"yOffset":-5.2,"opacity":0.16667},
 "encoding":{"x":{"field":"t","type":"quantitative","axis":null},"y":{"field":"u","type":"quantitative","axis":null},"color":{"field":"e","type":"quantitative","legend":null}}},
{"data":{"name":"grid"},"mark":{"type":"rect","width":15.5,"height":15.62,"clip":true,"xOffset":0,"yOffset":5.2,"opacity":0.142857},
 "encoding":{"x":{"field":"t","type":"quantitative","axis":null},"y":{"field":"u","type":"quantitative","axis":null},"color":{"field":"e","type":"quantitative","legend":null}}},
{"data":{"name":"grid"},"mark":{"type":"rect","width":15.5,"height":15.62,"clip":true,"xOffset":-5.16,"yOffset":0,"opacity":0.125},
 "encoding":{"x":{"field":"t","type":"quantitative","axis":null},"y":{"field":"u","type":"quantitative","axis":null},"color":{"field":"e","type":"quantitative","legend":null}}},
{"data":{"name":"grid"},"mark":{"type":"rect","width":15.5,"height":15.62,"clip":true,"xOffset":5.16,"yOffset":0,"opacity":0.11111},
 "encoding":{"x":{"field":"t","type":"quantitative","axis":null},"y":{"field":"u","type":"quantitative","axis":null},"color":{"field":"e","type":"quantitative","legend":null}}},
{"data":{"name":"lines"},
 "mark":{"type":"line","color":"#111","strokeWidth":0.8,"interpolate":"catmull-rom"},
 "encoding":{
  "x":{"field":"t","type":"quantitative","axis":{"orient":"bottom","values":[1000,1100,1200,1300,1400,1500],"labels":false,"tickSize":-7,"tickWidth":1,"domain":false,"title":null}},
  "y":{"field":"u","type":"quantitative","axis":{"orient":"left","values":[15,16,17,18,19,20,21,22],"labels":false,"tickSize":-8,"tickWidth":1,"domain":false,"title":null}},
  "detail":{"field":"g"},"order":{"field":"o","type":"quantitative"}}},
{"data":{"values":[{"t":1261,"u":21.6,"s":"0.01"},{"t":1422,"u":21.41,"s":"0.10"},{"t":1425,"u":20.61,"s":"0.40"}]},
 "mark":{"type":"text","angle":-23,"fontSize":17,"font":"Liberation Serif, Times New Roman, DejaVu Serif, serif","color":"#000","align":"center","baseline":"middle"},
 "encoding":{
  "x":{"field":"t","type":"quantitative","axis":{"orient":"top","values":[1000,1100,1200,1300,1400,1500],"labels":false,"tickSize":-7,"tickWidth":1,"domain":true,"title":null}},
  "y":{"field":"u","type":"quantitative","axis":{"orient":"left","values":[15.301,15.477,15.602,15.699,15.778,15.845,15.903,15.954,16.301,16.477,16.602,16.699,16.778,16.845,16.903,16.954,17.301,17.477,17.602,17.699,17.778,17.845,17.903,17.954,18.301,18.477,18.602,18.699,18.778,18.845,18.903,18.954,19.301,19.477,19.602,19.699,19.778,19.845,19.903,19.954,20.301,20.477,20.602,20.699,20.778,20.845,20.903,20.954,21.301,21.477,21.602,21.699,21.778,21.845,21.903,21.954],"labels":false,"tickSize":-4,"tickWidth":1,"domain":false,"title":null}},
  "text":{"field":"s"}}},
{"data":{"values":[{"t":1062,"u":18.25,"s":"0.40"},{"t":1061,"u":17.41,"s":"0.01"}]},
 "mark":{"type":"text","angle":-28,"fontSize":17,"font":"Liberation Serif, Times New Roman, DejaVu Serif, serif","color":"#000","align":"center","baseline":"middle"},
 "encoding":{
  "x":{"field":"t","type":"quantitative","axis":null},
  "y":{"field":"u","type":"quantitative","axis":{"orient":"right","values":[15,16,17,18,19,20,21,22],"labels":false,"tickSize":-8,"tickWidth":1,"domain":true,"title":null}},
  "text":{"field":"s"}}},
{"data":{"values":[{"t":1351,"u":17.61,"s":"0.60"},{"t":1397.5,"u":18.14,"s":"0.80"}]},
 "mark":{"type":"text","angle":70,"fontSize":17,"font":"Liberation Serif, Times New Roman, DejaVu Serif, serif","color":"#000","align":"center","baseline":"middle"},
 "encoding":{
  "x":{"field":"t","type":"quantitative","axis":null},
  "y":{"field":"u","type":"quantitative","axis":{"orient":"right","values":[15.301,15.477,15.602,15.699,15.778,15.845,15.903,15.954,16.301,16.477,16.602,16.699,16.778,16.845,16.903,16.954,17.301,17.477,17.602,17.699,17.778,17.845,17.903,17.954,18.301,18.477,18.602,18.699,18.778,18.845,18.903,18.954,19.301,19.477,19.602,19.699,19.778,19.845,19.903,19.954,20.301,20.477,20.602,20.699,20.778,20.845,20.903,20.954,21.301,21.477,21.602,21.699,21.778,21.845,21.903,21.954],"labels":false,"tickSize":-4,"tickWidth":1,"domain":false,"title":null}},
  "text":{"field":"s"}}},
{"data":{"values":[{"t":1272.5,"u":17.0,"s":"0.10"},{"t":1476.5,"u":17.03,"s":"0.90"}]},
 "mark":{"type":"text","angle":76,"fontSize":17,"font":"Liberation Serif, Times New Roman, DejaVu Serif, serif","color":"#000","align":"center","baseline":"middle"},
 "encoding":{
  "x":{"field":"t","type":"quantitative","axis":null},
  "y":{"field":"u","type":"quantitative","axis":null},
  "text":{"field":"s"}}},
{"data":{"values":[{"t":1125,"u":16.2,"s":"Compensated region"}]},
 "mark":{"type":"text","fontSize":20,"font":"Liberation Serif, Times New Roman, DejaVu Serif, serif","color":"#000","align":"center","baseline":"alphabetic"},
 "encoding":{
  "x":{"field":"t","type":"quantitative","axis":null},
  "y":{"field":"u","type":"quantitative","axis":null},
  "text":{"field":"s"}}}
],
"resolve":{"axis":{"x":"independent","y":"independent"}}
}
